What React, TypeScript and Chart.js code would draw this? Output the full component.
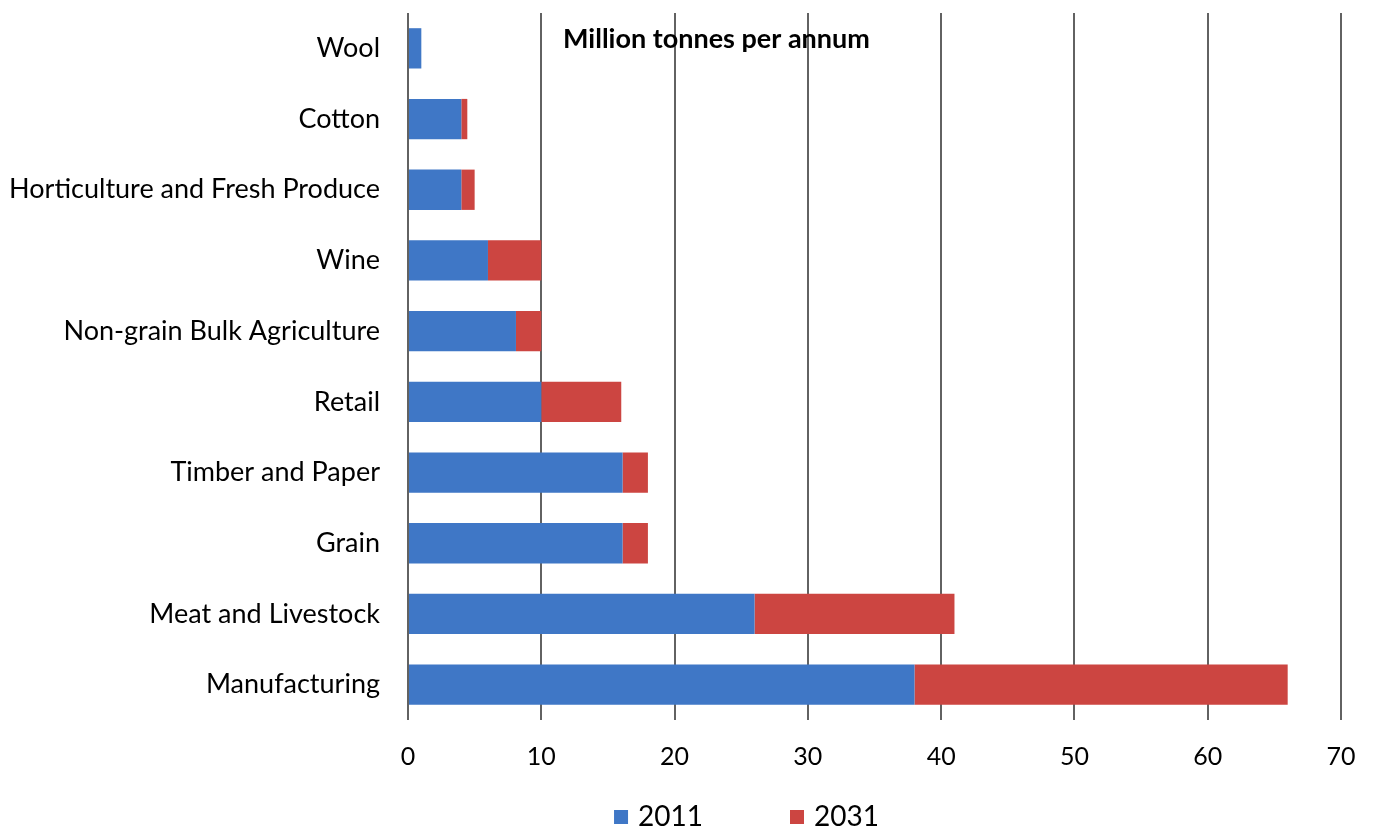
import React, { useEffect, useRef } from "react";
import { Chart, registerables } from "chart.js";

Chart.register(...registerables);

const categories = [
  "Wool",
  "Cotton",
  "Horticulture and Fresh Produce",
  "Wine",
  "Non-grain Bulk Agriculture",
  "Retail",
  "Timber and Paper",
  "Grain",
  "Meat and Livestock",
  "Manufacturing",
];
const values2011 = [1.0, 4.0, 4.0, 6.0, 8.1, 10.0, 16.1, 16.1, 26.0, 38.0];
const values2031 = [0, 0.45, 1.0, 4.0, 1.9, 6.0, 1.9, 1.9, 15.0, 28.0];
const seriesNames = ["2011", "2031"];
const seriesColors = ["#3F77C6", "#CC4541"];
const xTickMax = 70;
const xTickStep = 10;
const unitLabel = "Million tonnes per annum";

const FONT = "Lato, 'Noto Sans', sans-serif";

const titlePlugin = {
  id: "unitTitle",
  afterDraw(chart: any) {
    const { ctx, chartArea } = chart;
    ctx.save();
    ctx.font = `bold 27px ${FONT}`;
    ctx.fillStyle = "#000";
    ctx.textAlign = "left";
    ctx.textBaseline = "middle";
    ctx.fillText(unitLabel, chartArea.left + 155, chartArea.top + 26);
    ctx.restore();
  },
};

const legendPlugin = {
  id: "bottomLegend",
  afterDraw(chart: any) {
    const { ctx, chartArea } = chart;
    const datasets = chart.data.datasets;
    ctx.save();
    ctx.font = `28px ${FONT}`;
    ctx.textBaseline = "middle";
    ctx.textAlign = "left";
    const box = 14;
    const gapText = 10;
    const gapItem = 87;
    const widths = datasets.map((d: any) => box + gapText + ctx.measureText(d.label).width);
    const total = widths.reduce((a: number, b: number) => a + b, 0) + gapItem * (datasets.length - 1);
    const centerX = (chartArea.left + chartArea.right) / 2 - 128;
    const cy = chart.height - 19;
    let x = centerX - total / 2;
    datasets.forEach((d: any, i: number) => {
      ctx.fillStyle = d.backgroundColor;
      ctx.fillRect(x, cy - box / 2, box, box);
      ctx.fillStyle = "#000";
      ctx.fillText(d.label, x + box + gapText, cy);
      x += widths[i] + gapItem;
    });
    ctx.restore();
  },
};

export default function App() {
  const ref = useRef<HTMLCanvasElement | null>(null);

  useEffect(() => {
    if (!ref.current) return;
    const chart = new Chart(ref.current, {
      type: "bar",
      data: {
        labels: categories,
        datasets: [
          {
            label: seriesNames[0],
            data: values2011,
            backgroundColor: seriesColors[0],
            barPercentage: 0.57,
            categoryPercentage: 1,
          },
          {
            label: seriesNames[1],
            data: values2031,
            backgroundColor: seriesColors[1],
            barPercentage: 0.57,
            categoryPercentage: 1,
          },
        ],
      },
      options: {
        indexAxis: "y",
        responsive: false,
        animation: false,
        layout: { padding: { left: 0, right: 43, top: 13, bottom: 60 } },
        scales: {
          x: {
            stacked: true,
            min: 0,
            max: xTickMax,
            grid: {
              color: "#626262",
              lineWidth: 2,
              drawTicks: false,
            },
            border: { display: false },
            ticks: {
              stepSize: xTickStep,
              color: "#000",
              font: { family: FONT, size: 25 },
              padding: 22,
              maxRotation: 0,
            },
            afterFit(scale: any) {
              scale.height = 56;
              scale.paddingTop = 0;
              scale.paddingBottom = 0;
            },
          },
          y: {
            stacked: true,
            grid: { display: false, drawTicks: false },
            border: { display: false },
            ticks: {
              color: "#000",
              font: { family: FONT, size: 27 },
              padding: 28,
              autoSkip: false,
            },
            afterFit(scale: any) {
              scale.width = 408;
              scale.paddingTop = 0;
              scale.paddingBottom = 0;
            },
          },
        },
        plugins: {
          legend: { display: false },
          tooltip: { enabled: false },
        },
      },
      plugins: [titlePlugin, legendPlugin],
    });
    return () => chart.destroy();
  }, []);

  return (
    <div style={{ position: "absolute", left: 0, top: 0, width: 1384, height: 836, background: "#fff" }}>
      <canvas ref={ref} width={1384} height={836} />
    </div>
  );
}
